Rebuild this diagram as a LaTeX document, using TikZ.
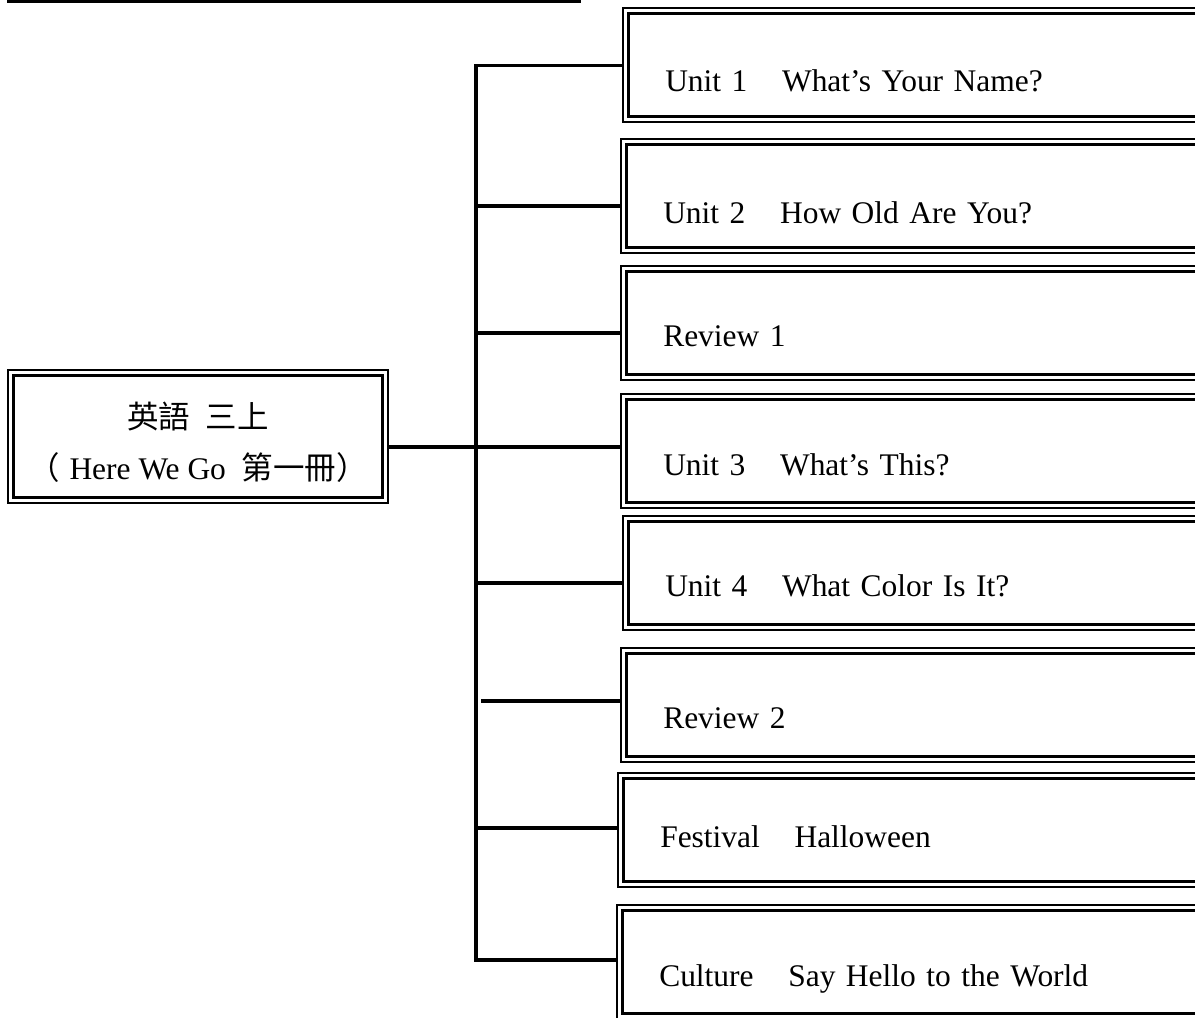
\documentclass[tikz,border=0pt]{standalone}
\usepackage{fontspec}
\setmainfont{Liberation Serif}
\newfontfamily\cjk{Noto Sans CJK TC}
\usepackage{tikz}
\usetikzlibrary{calc}
\tikzset{
  unitbox/.style 2 args={draw, line width=1.8pt, anchor=north west,
    inner xsep=27.5pt, inner ysep=0pt, outer sep=4.2pt,
    text width=420pt, align=left, text height=#1, text depth=#2,
    font=\fontsize{23.6pt}{28pt}\selectfont},
  hubbox/.style={draw, line width=1.8pt, anchor=north west,
    inner sep=0pt, outer sep=4.2pt,
    minimum width=276.75pt, minimum height=91.5pt, align=center,
    font=\fontsize{23.6pt}{38pt}\selectfont},
  frame/.style={line width=1.1pt},
  branch/.style={line width=2.3pt},
}

\begin{document}
\begin{tikzpicture}[x=0.75pt,y=-0.75pt]
    \useasboundingbox (0,0) rectangle (1195,1017);
    \clip (0,0) rectangle (1195,1017);

    %Rule on top
    \draw[branch] (7,1) -- (581,1);

    % Boxes
    \node[hubbox] (hub) at (8,370)
      {\rule{0pt}{28.3pt}{\cjk 英語\hspace{.5em}三上}\\{\cjk （}\hspace{.3em}Here We Go\hspace{.5em}{\cjk 第一冊）}};

    \node[unitbox={58.5pt}{18.75pt}] (u1) at (623,8) {Unit 1\hspace{1.1em}What’s Your Name?};
    \node[unitbox={59.25pt}{18pt}] (u2) at (621,139) {Unit 2\hspace{1.1em}How Old Are You?};
    \node[unitbox={56.25pt}{21pt}] (u3) at (621,266) {Review 1};
    \node[unitbox={57pt}{20.25pt}] (u4) at (621,394) {Unit 3\hspace{1.1em}What’s This?};
    \node[unitbox={56.25pt}{21pt}] (u5) at (623,516) {Unit 4\hspace{1.1em}What Color Is It?};
    \node[unitbox={56.25pt}{21pt}] (u6) at (621,648) {Review 2};
    \node[unitbox={52pt}{25.25pt}] (u7) at (618,773) {Festival\hspace{1.1em}Halloween};
    \node[unitbox={57pt}{20.25pt}] (u8) at (617,905) {Culture\hspace{1.1em}Say Hello to the World};

    \foreach \n in {hub,u1,u2,u3,u4,u5,u6,u7,u8}
      \draw[frame] (\n.north west) rectangle (\n.south east);

    % Lines
    \coordinate (tbot) at (476,960);
    \draw[branch] (u1.west) -| (tbot) -- (tbot -| u8.west);

    \foreach \n/\y/\xs in {u2/206/476, u3/333/476, u5/583/476, u6/701/481, u7/828/476} {
      \coordinate (b\n) at (\xs,\y);
      \draw[branch] (b\n) -- (b\n -| \n.west);
    }

    \coordinate (bu4) at (0,447);
    \draw[branch] (bu4 -| hub.east) -- (bu4 -| u4.west);
\end{tikzpicture}
\end{document}
